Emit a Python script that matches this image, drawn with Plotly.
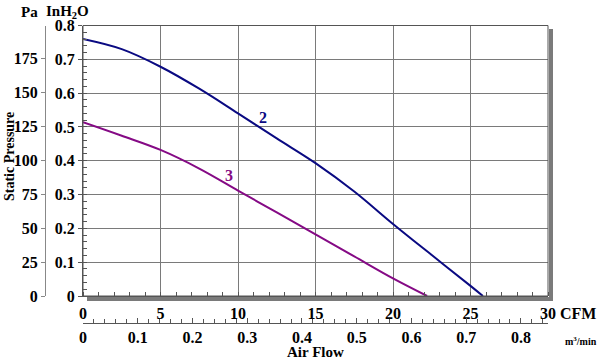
import plotly.graph_objects as go

# Data (Air flow in CFM, static pressure in inH2O)
cfm_2 = [0, 2.5, 5, 7.5, 10, 12.5, 15, 17.5, 20, 22.5, 25, 25.8]
p_2 = [0.760, 0.730, 0.678, 0.613, 0.540, 0.466, 0.393, 0.309, 0.213, 0.121, 0.030, 0.0]
cfm_3 = [0, 2.5, 5, 7.5, 10, 12.5, 15, 17.5, 20, 22.2]
p_3 = [0.514, 0.474, 0.432, 0.377, 0.312, 0.247, 0.182, 0.117, 0.052, 0.0]

inh2o_ticks = [0, 0.1, 0.2, 0.3, 0.4, 0.5, 0.6, 0.7, 0.8]
pa_ticks = [0, 25, 50, 75, 100, 125, 150, 175]
cfm_ticks = [0, 5, 10, 15, 20, 25, 30]
m3_ticks = [0, 0.1, 0.2, 0.3, 0.4, 0.5, 0.6, 0.7, 0.8]

PA_PER_INH2O = 249.09
CFM_PER_M3MIN = 35.3147

W, H = 600, 360

def px(x):
    return x / W
def py(y):
    return 1 - y / H

FONT = "Liberation Serif"
NAVY = "#0a0a82"
PURPLE = "#850a85"
GRID = "#7a7a7a"

fig = go.Figure()
fig.add_trace(go.Scatter(x=cfm_2, y=p_2, mode="lines", line=dict(color=NAVY, width=2, shape="spline"),
                         hoverinfo="skip", showlegend=False))
fig.add_trace(go.Scatter(x=cfm_3, y=p_3, mode="lines", line=dict(color=PURPLE, width=2, shape="spline"),
                         hoverinfo="skip", showlegend=False))
# invisible traces to activate secondary axes
fig.add_trace(go.Scatter(x=[0], y=[0], xaxis="x", yaxis="y2", mode="markers", opacity=0,
                         hoverinfo="skip", showlegend=False))
fig.add_trace(go.Scatter(x=[0], y=[0], xaxis="x2", yaxis="y", mode="markers", opacity=0,
                         hoverinfo="skip", showlegend=False))

xd = [px(83), px(548)]
yd = [py(296), py(25.5)]
tickfont = dict(family=FONT, size=16, color="black", weight="bold")

fig.update_layout(
    width=W, height=H,
    margin=dict(l=0, r=0, t=0, b=0, autoexpand=False),
    paper_bgcolor="white", plot_bgcolor="white",
    xaxis=dict(domain=xd, range=[0, 30], tickvals=cfm_ticks, showgrid=True, gridcolor=GRID, gridwidth=1,
               showline=True, linecolor="#555555", linewidth=1, ticks="", zeroline=False,
               tickfont=tickfont, ticklabelstandoff=3, automargin=False,
               minor=dict(dtick=1, ticks="inside", ticklen=4, tickcolor="#555555", showgrid=False),
               anchor="y", fixedrange=True),
    yaxis=dict(domain=yd, range=[0, 0.8], tickvals=inh2o_ticks, ticktext=["0" if v == 0 else f"{v:.1f}" for v in inh2o_ticks],
               showgrid=True, gridcolor=GRID, gridwidth=1, showline=True, linecolor="#555555", linewidth=1,
               ticks="outside", ticklen=4, tickcolor="#555555", zeroline=False, tickfont=tickfont,
               automargin=False,
               minor=dict(dtick=0.02, ticks="inside", ticklen=4, tickcolor="#555555", showgrid=False),
               anchor="x", fixedrange=True),
    yaxis2=dict(overlaying="y", anchor="free", position=px(45), side="left",
                range=[0, 0.8 * PA_PER_INH2O], tickvals=pa_ticks, showgrid=False, zeroline=False,
                showline=True, linecolor="#888888", linewidth=1, ticks="outside", ticklen=4,
                tickcolor="#888888", tickfont=tickfont, automargin=False, fixedrange=True),
    xaxis2=dict(overlaying="x", anchor="free", position=py(323), side="bottom",
                range=[0, 30 / CFM_PER_M3MIN], tickvals=m3_ticks,
                ticktext=["0" if v == 0 else f"{v:.1f}" for v in m3_ticks],
                showgrid=False, zeroline=False, showline=True, linecolor="#555555", linewidth=1,
                ticks="inside", ticklen=5, tickcolor="#555555", tickfont=tickfont, automargin=False,
                minor=dict(dtick=0.02, ticks="inside", ticklen=4, tickcolor="#555555"),
                fixedrange=True),
)

# shadow frame (right and bottom)
fig.add_shape(type="rect", xref="paper", yref="paper", x0=px(549), x1=px(553), y0=py(301), y1=py(29),
              fillcolor="#7a7a7a", line=dict(width=0), layer="below")
fig.add_shape(type="rect", xref="paper", yref="paper", x0=px(87), x1=px(553), y0=py(301), y1=py(297),
              fillcolor="#7a7a7a", line=dict(width=0), layer="below")
# frame lines
fig.add_shape(type="rect", xref="x domain", yref="y domain", x0=0, x1=1, y0=0, y1=1,
              line=dict(color="#555555", width=1))

def ann(text, x, y, size=16, color="black", xanchor="center", textangle=0):
    fig.add_annotation(text=text, xref="paper", yref="paper", x=px(x), y=py(y), showarrow=False,
                       font=dict(family=FONT, size=size, color=color, weight="bold"),
                       xanchor=xanchor, yanchor="middle", textangle=textangle)

ann("Pa", 29, 12, size=15)
ann("InH<sub>2</sub>O", 67, 12, size=15)
ann("Static Pressure", 9, 157, size=14, textangle=-90)
ann("CFM", 558, 313, size=16, xanchor="left")
ann("m<sup>3</sup>/min", 599, 341, size=10, xanchor="right")
ann("Air Flow", 315, 352, size=15)
ann("2", 263, 118, size=16, color=NAVY)
ann("3", 229, 175, size=16, color=PURPLE)

fig.write_html("out.html", config={"displayModeBar": False},
               post_script="document.body.style.margin='0px';")
